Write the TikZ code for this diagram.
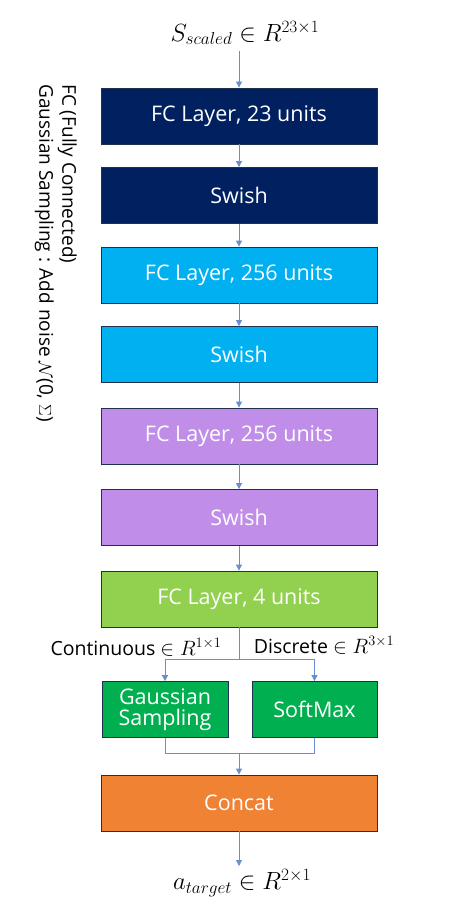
\documentclass[tikz,border=0pt]{standalone}
\usepackage{fontspec}
\setmainfont{Open Sans}
\usetikzlibrary{arrows.meta}
\definecolor{navy}{HTML}{002060}
\definecolor{cyanb}{HTML}{00B0F0}
\definecolor{lav}{HTML}{C08EE8}
\definecolor{lime}{HTML}{92D050}
\definecolor{grn}{HTML}{00B050}
\definecolor{orng}{HTML}{F08234}
\definecolor{edge}{HTML}{1F3050}
\definecolor{arr}{HTML}{4472C4}
\begin{document}
\begin{tikzpicture}[x=1pt,y=-1pt,
  layer/.style={draw=edge, line width=0.8pt, minimum width=276pt, minimum height=56pt, inner sep=0pt, text=white, font=\fontsize{21.5}{24}\selectfont},
  small/.style={layer, minimum width=126pt, align=center},
  conn/.style={draw=arr!80, line width=0.8pt},
  arrw/.style={conn, -{Triangle[length=6pt,width=6pt]}},
  lbl/.style={inner sep=0pt, font=\fontsize{19.5}{22}\selectfont}]
\useasboundingbox (0,0) rectangle (464,909);
\node[inner sep=0pt, font=\fontsize{24}{26}\selectfont] (in) at (245,33) {$S_{scaled}\in R^{23\times 1}$};
\node[layer, fill=navy] (fc1) at (239,116) {FC Layer, 23 units};
\node[layer, fill=navy] (sw1) at (239,195.5) {Swish};
\node[layer, fill=cyanb] (fc2) at (239,275) {FC Layer, 256 units};
\node[layer, fill=cyanb] (sw2) at (239,354.5) {Swish};
\node[layer, fill=lav] (fc3) at (239,436) {FC Layer, 256 units};
\node[layer, fill=lav] (sw3) at (239,517.5) {Swish};
\node[layer, fill=lime] (fc4) at (239,599) {FC Layer, 4 units};
\node[small, fill=grn] (gs) at (165,709.5) {Gaussian\\[-3pt]Sampling};
\node[small, fill=grn, minimum width=125pt] (sm) at (314.5,709.5) {SoftMax};
\node[layer, fill=orng] (cat) at (239,803) {Concat};
\node[inner sep=0pt, font=\fontsize{24}{26}\selectfont] (out) at (242,883) {$a_{target}\in R^{2\times 1}$};
\coordinate (split) at (239,659);
\coordinate (merge) at (239,753);
\node[lbl] (cl) at (136,647) {Continuous $\in R^{1\times 1}$};
\node[lbl] (dl) at (324,645) {Discrete $\in R^{3\times 1}$};
\node[lbl, rotate=-90, anchor=north west, align=left, font=\fontsize{19}{23}\selectfont] (note) at (77,84) {FC (Fully Connected)\\Gaussian Sampling : Add noise $\mathcal{N}$(0, $\Sigma$)};
\draw[arrw] (239,51) -- (fc1);
\draw[arrw] (fc1) -- (sw1);
\draw[arrw] (sw1) -- (fc2);
\draw[arrw] (fc2) -- (sw2);
\draw[arrw] (sw2) -- (fc3);
\draw[arrw] (fc3) -- (sw3);
\draw[arrw] (sw3) -- (fc4);
\draw[conn] (fc4) -- (split);
\draw[arrw] (split) -| (gs);
\draw[arrw] (split) -| (sm);
\draw[conn] (gs) |- (merge);
\draw[conn] (sm) |- (merge);
\draw[arrw] (merge) -- (cat);
\draw[arrw] (cat) -- (239,866);
\end{tikzpicture}
\end{document}
